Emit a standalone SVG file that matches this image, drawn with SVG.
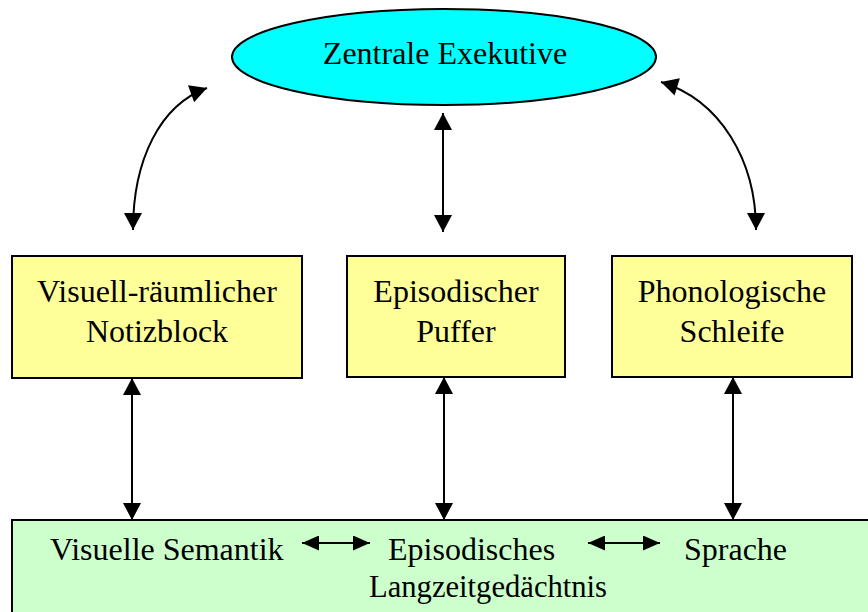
<svg xmlns="http://www.w3.org/2000/svg" width="868" height="612" viewBox="0 0 868 612">
  <style>
    .lbl { font-family: "Liberation Serif", "Times New Roman", serif; font-size: 32px; fill: #000; }
    .mid { text-anchor: middle; }
    .box { fill: #FFFF99; stroke: #000; stroke-width: 2; }
    .link { fill: none; stroke: #000; stroke-width: 2; }
  </style>
  <defs>
    <marker id="head" markerUnits="userSpaceOnUse" markerWidth="18" markerHeight="18" viewBox="0 0 16 17" refX="16" refY="8.5" orient="auto-start-reverse">
      <path d="M0,0 L16,8.5 L0,17 Z" fill="#000"/>
    </marker>
    <marker id="headSmall" markerUnits="userSpaceOnUse" markerWidth="17" markerHeight="15" viewBox="0 0 17 15" refX="17" refY="7.5" orient="auto-start-reverse">
      <path d="M0,0 L17,7.5 L0,15 Z" fill="#000"/>
    </marker>
  </defs>

  <!-- long-term memory base -->
  <g id="ltm">
    <rect x="12" y="520" width="870" height="110" fill="#CCFFCC" stroke="#000" stroke-width="2"/>
    <text class="lbl" x="50" y="560">Visuelle Semantik</text>
    <text class="lbl" x="388" y="560">Episodisches</text>
    <text class="lbl" x="684" y="560">Sprache</text>
    <text class="lbl" x="369" y="597" textLength="238" lengthAdjust="spacingAndGlyphs">Langzeitgedächtnis</text>
  </g>

  <!-- central executive -->
  <g id="central">
    <ellipse cx="444" cy="57" rx="212" ry="48" fill="#00FFFF" stroke="#000" stroke-width="2"/>
    <text class="lbl mid" x="445" y="64">Zentrale Exekutive</text>
  </g>

  <g id="visuospatial">
    <rect class="box" x="12" y="256" width="290" height="122"/>
    <text class="lbl mid" x="157" y="302">Visuell-räumlicher</text>
    <text class="lbl mid" x="157" y="342">Notizblock</text>
  </g>

  <g id="buffer">
    <rect class="box" x="347" y="256" width="218" height="121"/>
    <text class="lbl mid" x="456" y="302">Episodischer</text>
    <text class="lbl mid" x="456" y="342">Puffer</text>
  </g>

  <g id="phonological">
    <rect class="box" x="612" y="256" width="240" height="121"/>
    <text class="lbl mid" x="732" y="302">Phonologische</text>
    <text class="lbl mid" x="732" y="342">Schleife</text>
  </g>

  <g id="connectors">
    <path class="link" d="M133,230 C133,160 160,105 207,88" marker-start="url(#head)" marker-end="url(#head)"/>
    <path class="link" d="M756,230 C756,160 720,100 661,82" marker-start="url(#head)" marker-end="url(#head)"/>
    <line class="link" x1="443" y1="113" x2="443" y2="232" marker-start="url(#head)" marker-end="url(#head)"/>
    <line class="link" x1="132" y1="378" x2="132" y2="520" marker-start="url(#head)" marker-end="url(#head)"/>
    <line class="link" x1="444" y1="377" x2="444" y2="520" marker-start="url(#head)" marker-end="url(#head)"/>
    <line class="link" x1="733" y1="377" x2="733" y2="520" marker-start="url(#head)" marker-end="url(#head)"/>
    <line class="link" x1="302" y1="543" x2="370" y2="543" marker-start="url(#headSmall)" marker-end="url(#headSmall)"/>
    <line class="link" x1="588" y1="543" x2="660" y2="543" marker-start="url(#headSmall)" marker-end="url(#headSmall)"/>
  </g>
</svg>
